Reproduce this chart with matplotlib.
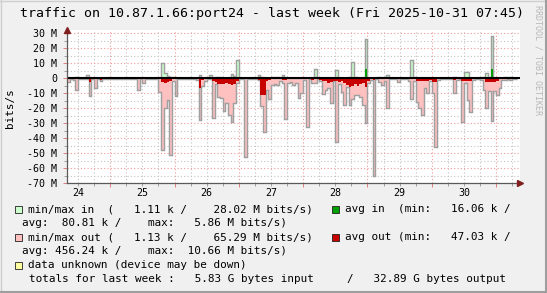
import numpy as np

import matplotlib
matplotlib.use("Agg")
import matplotlib.pyplot as plt
from matplotlib.patches import Rectangle
from matplotlib.lines import Line2D

# hourly samples, M bits/s, hour index since 2025-10-24 00:00 (first sample 08:00)
FIRST_HOUR = 8

out_max = [
    # Oct 24 (08..23)
    2.7, 0.4, 1.2, 8.0, 0.4, 0.4, 0.4, 0.6, 12.0, 0.5, 6.8, 0.4, 1.5, 0.4, 0.4, 0.4,
    # Oct 25
    0.4, 0.4, 0.4, 0.4, 0.4, 0.4, 0.4, 0.4, 0.4, 0.4, 7.8, 0.4,
    3.0, 0.4, 0.4, 0.4, 0.4, 0.4, 8.9, 48.0, 19.5, 14.5, 51.0, 1.5,
    # Oct 26
    11.6, 0.4, 0.4, 0.4, 0.4, 0.4, 0.4, 0.4, 1.0, 28.0, 5.0, 2.0,
    0.5, 0.8, 26.5, 3.5, 12.3, 13.3, 22.0, 16.5, 24.4, 29.3, 16.5, 3.0,
    # Oct 27
    0.5, 0.4, 52.4, 0.4, 0.4, 0.4, 0.4, 1.0, 18.5, 35.5, 8.0, 13.8,
    4.4, 3.5, 4.4, 2.0, 3.0, 27.3, 3.0, 2.5, 4.4, 3.0, 12.9, 9.6,
    # Oct 28
    1.0, 32.2, 0.5, 3.3, 3.3, 0.5, 1.5, 10.2, 7.8, 6.7, 16.5, 2.0,
    42.7, 3.5, 8.9, 17.8, 5.5, 17.8, 14.0, 11.1, 11.1, 12.2, 17.8, 30.0,
    # Oct 29
    3.0, 1.0, 65.3, 0.5, 2.2, 4.4, 2.0, 19.6, 0.4, 0.4, 0.4, 2.2,
    0.4, 0.4, 0.4, 1.5, 14.0, 2.0, 15.5, 20.0, 24.4, 6.2, 10.0, 1.5,
    # Oct 30
    9.6, 45.5, 1.0, 0.4, 0.4, 0.4, 0.4, 0.5, 9.6, 1.0, 0.5, 28.9,
    3.3, 14.2, 22.2, 1.0, 0.4, 0.4, 1.0, 7.8, 20.0, 8.4, 28.7, 8.4,
    # Oct 31 (00..07)
    11.0, 6.5, 1.0, 1.0, 0.5, 1.0, 0.4, 0.4,
]

out_avg = [
    0.5, 0.3, 0.8, 0.4, 0.3, 0.3, 0.3, 0.3, 2.2, 0.4, 0.4, 0.3, 1.0, 0.3, 0.3, 0.3,
    0.3, 0.3, 0.3, 0.3, 0.3, 0.3, 0.3, 0.3, 0.3, 0.3, 0.4, 0.3,
    0.4, 0.3, 0.3, 0.3, 0.3, 0.3, 0.8, 2.2, 3.0, 2.5, 1.5, 0.8,
    0.5, 0.3, 0.3, 0.3, 0.3, 0.3, 0.3, 0.3, 0.6, 6.7, 1.2, 0.6,
    0.3, 0.8, 2.0, 2.5, 3.5, 3.5, 4.0, 3.0, 3.5, 4.4, 3.5, 1.5,
    0.4, 0.3, 0.5, 0.3, 0.3, 0.3, 0.3, 1.0, 11.0, 11.0, 1.5, 1.0,
    0.8, 0.8, 0.8, 0.5, 1.0, 1.0, 0.7, 0.7, 0.7, 0.7, 0.7, 0.7,
    0.5, 0.8, 0.3, 1.0, 0.8, 0.4, 1.0, 1.5, 2.0, 3.0, 2.5, 1.5,
    2.0, 2.5, 2.0, 3.3, 4.4, 5.5, 5.0, 4.0, 5.0, 4.0, 3.0, 5.5,
    2.0, 0.8, 1.0, 0.3, 0.6, 0.8, 0.5, 0.8, 0.3, 0.3, 0.3, 0.5,
    0.3, 0.3, 0.3, 0.4, 0.5, 0.4, 1.8, 1.8, 1.8, 1.5, 1.5, 1.0,
    2.2, 2.2, 0.4, 0.3, 0.3, 0.3, 0.3, 0.3, 1.0, 0.4, 0.3, 1.8,
    1.8, 1.8, 1.8, 0.4, 0.3, 0.3, 0.4, 0.8, 2.7, 2.7, 2.7, 2.7,
    1.5, 0.8, 0.3, 0.3, 0.3, 0.3, 0.3, 0.3,
]

in_max = [
    0.2, 0.2, 0.2, 0.7, 0.2, 0.2, 0.2, 2.3, 0.2, 0.2, 0.2, 0.2, 0.2, 0.2, 0.2, 0.2,
    0.2, 0.2, 0.2, 0.2, 0.2, 0.2, 0.2, 0.2, 0.2, 0.2, 0.2, 0.2,
    0.2, 0.2, 0.2, 0.2, 0.2, 0.2, 0.2, 10.0, 3.4, 1.5, 0.8, 0.7,
    0.2, 0.2, 0.2, 0.2, 0.2, 0.2, 0.2, 0.2, 0.2, 2.2, 0.2, 0.2,
    0.2, 2.3, 0.2, 0.7, 0.7, 0.5, 0.5, 0.5, 0.5, 3.0, 1.8, 12.3,
    0.2, 0.2, 0.2, 0.2, 0.2, 0.2, 0.2, 2.2, 1.0, 0.2, 0.2, 0.2,
    1.1, 0.5, 0.7, 0.2, 2.2, 0.2, 0.2, 0.2, 0.2, 0.2, 0.2, 0.2,
    0.2, 0.2, 0.2, 0.2, 6.0, 0.2, 0.2, 0.2, 0.2, 0.2, 0.2, 0.2,
    5.7, 0.3, 0.5, 0.3, 0.3, 1.0, 11.0, 0.7, 0.3, 0.3, 0.5, 26.2,
    0.5, 0.2, 0.2, 0.2, 1.1, 0.2, 1.0, 2.2, 0.2, 0.2, 0.2, 0.2,
    0.2, 0.2, 0.2, 0.2, 12.3, 0.7, 0.2, 0.2, 0.2, 0.2, 0.2, 0.2,
    0.2, 0.2, 0.2, 0.2, 0.2, 0.2, 0.2, 0.2, 1.1, 0.2, 0.2, 0.2,
    4.5, 4.5, 0.2, 0.2, 0.2, 0.2, 0.2, 0.7, 3.3, 1.0, 28.4, 0.3,
    0.2, 0.2, 0.2, 0.7, 0.2, 0.7, 0.2, 0.2,
]

in_avg = [
    0.05, 0.05, 0.05, 0.05, 0.05, 0.05, 0.05, 0.05, 0.05, 0.05, 0.05, 0.05, 0.05, 0.05, 0.05, 0.05,
    0.05, 0.05, 0.05, 0.05, 0.05, 0.05, 0.05, 0.05, 0.05, 0.05, 0.05, 0.05,
    0.05, 0.05, 0.05, 0.05, 0.05, 0.05, 0.05, 0.7, 0.5, 0.1, 0.05, 0.05,
    0.05, 0.05, 0.05, 0.05, 0.05, 0.05, 0.05, 0.05, 0.05, 0.1, 0.05, 0.05,
    0.05, 0.1, 0.05, 0.05, 0.05, 0.05, 0.05, 0.05, 0.05, 0.1, 0.1, 0.5,
    0.05, 0.05, 0.05, 0.05, 0.05, 0.05, 0.05, 0.3, 0.1, 0.05, 0.05, 0.05,
    0.05, 0.05, 0.05, 0.05, 0.1, 0.05, 0.05, 0.05, 0.05, 0.05, 0.05, 0.05,
    0.05, 0.05, 0.05, 0.05, 0.2, 0.05, 0.05, 0.05, 0.05, 0.05, 0.05, 0.05,
    0.2, 0.05, 0.05, 0.05, 0.05, 0.1, 0.7, 0.05, 0.05, 0.05, 0.5, 6.2,
    0.05, 0.05, 0.05, 0.05, 0.05, 0.05, 0.05, 0.05, 0.05, 0.05, 0.05, 0.05,
    0.05, 0.05, 0.05, 0.05, 0.5, 0.05, 0.05, 0.05, 0.05, 0.05, 0.05, 0.05,
    0.05, 0.05, 0.05, 0.05, 0.05, 0.05, 0.05, 0.05, 0.05, 0.05, 0.05, 0.05,
    0.3, 0.1, 0.05, 0.05, 0.05, 0.05, 0.05, 0.05, 0.2, 0.05, 6.2, 0.05,
    0.05, 0.05, 0.05, 0.05, 0.05, 0.05, 0.05, 0.05,
]

day_labels = ["24", "25", "26", "27", "28", "29", "30"]
y_labels = ["30 M", "20 M", "10 M", "0", "-10 M", "-20 M", "-30 M",
            "-40 M", "-50 M", "-60 M", "-70 M"]

title = "traffic on 10.87.1.66:port24 - last week (Fri 2025-10-31 07:45)"
legend_lines = [
    "min/max in  (   1.11 k /    28.02 M bits/s)",
    "avg in  (min:   16.06 k /",
    "avg:  80.81 k /    max:   5.86 M bits/s)",
    "min/max out (   1.13 k /    65.29 M bits/s)",
    "avg out (min:   47.03 k /",
    "avg: 456.24 k /    max:  10.66 M bits/s)",
    "data unknown (device may be down)",
    "totals for last week :   5.83 G bytes input     /   32.89 G bytes output",
]

W, H = 547, 293
MONO = "DejaVu Sans Mono"
C_BACK = "#f0f0f0"
C_INMM = "#ccffcc"
C_INAVG = "#00a000"
C_OUTMM = "#ffc0c0"
C_OUTAVG = "#c80000"
C_UNK = "#ffffa0"
C_LINE = "#a0a0a0"
C_ARROW = "#7f1f1f"


def fx(px):
    return px / W


def fy(py):
    return 1 - py / H


plt.rcParams["font.family"] = MONO

fig = plt.figure(figsize=(W / 100, H / 100), dpi=100, facecolor=C_BACK)

# frame
fig.add_artist(Line2D([0, 1], [fy(0.5), fy(0.5)], color="#cfcfcf", lw=1.0))
fig.add_artist(Line2D([fx(0.5), fx(0.5)], [0, 1], color="#cfcfcf", lw=1.0))
fig.add_artist(Line2D([0, 1], [fy(292), fy(292)], color="#9e9e9e", lw=1.5))
fig.add_artist(Line2D([fx(546), fx(546)], [0, 1], color="#9e9e9e", lw=1.5))

x0, x1, yb, yt = 66.7, 519.9, 183.3, 29.5
ax = fig.add_axes([fx(x0), fy(yb), fx(x1) - fx(x0), (yb - yt) / H])
ax.set_facecolor("white")

edges = np.arange(FIRST_HOUR, FIRST_HOUR + len(out_max) + 1)
om = -np.array(out_max)
oa = -np.array(out_avg)
im = np.array(in_max)
ia = np.array(in_avg)

ax.stairs(om, edges, baseline=0, fill=True, color=C_OUTMM, lw=0, zorder=2)
ax.stairs(im, edges, baseline=0, fill=True, color=C_INMM, lw=0, zorder=2)
ax.stairs(om, edges, baseline=None, color=C_LINE, lw=1.05, zorder=3)
ax.stairs(im, edges, baseline=None, color=C_LINE, lw=1.05, zorder=3)
ax.stairs(oa, edges, baseline=0, fill=True, color=C_OUTAVG, lw=0, zorder=4)
ax.stairs(ia, edges, baseline=0, fill=True, color=C_INAVG, lw=0, zorder=4)
ax.axhline(0, color="black", lw=1.5, zorder=5)

ax.set_xlim(7.75, 176.9)
ax.set_ylim(-70, 32.5)

# grid
ax.set_xticks(np.arange(24, 169, 24))
ax.set_xticks(np.arange(12, 176, 6), minor=True)
ax.set_xticklabels([])
ax.set_yticks(np.arange(30, -71, -10))
ax.set_yticklabels(y_labels)
ax.set_yticks(np.arange(25, -70, -10), minor=True)
ax.grid(which="major", color="#f09a9a", ls=(0, (1, 2)), lw=0.8, zorder=1)
ax.grid(which="minor", color="#c4c4c4", ls=(0, (1, 2)), lw=0.8, zorder=1)
ax.set_axisbelow(True)
ax.tick_params(which="major", length=3, width=0.7, color="#e08080", labelsize=7.2, pad=4)
ax.tick_params(which="minor", length=2, width=0.7, color="#a0a0a0")
ax.tick_params(axis="y", labelcolor="black")

for s in ["top", "right"]:
    ax.spines[s].set_visible(False)
for s in ["left", "bottom"]:
    ax.spines[s].set_color("#5a5a5a")
    ax.spines[s].set_linewidth(0.9)
    ax.spines[s].set_zorder(6)

# arrows
ax.plot(1.0, 0, marker=">", ms=4, color=C_ARROW, transform=ax.transAxes, clip_on=False, zorder=7)
ax.plot(0, 1.0, marker="^", ms=4, color=C_ARROW, transform=ax.transAxes, clip_on=False, zorder=7)

# day labels at noon
for lab, h in zip(day_labels, np.arange(12, 168, 24)):
    ax.text(h, -0.06, lab, transform=ax.get_xaxis_transform(), ha="center", va="center",
            fontsize=7.2)

fig.text(fx(272.5), fy(13), title, ha="center", va="center", fontsize=9.5)
fig.text(fx(10), fy(108), "bits/s", rotation=90, ha="center", va="center", fontsize=7.9)
fig.text(fx(538), fy(5), "RRDTOOL / TOBI OETIKER", rotation=270, ha="center", va="top",
         fontsize=6, color="#b8b8b8")


def square(xl, yc, color):
    s = 7.5
    fig.add_artist(Rectangle((fx(xl), fy(yc + s / 2)), s / W, s / H, facecolor=color,
                             edgecolor="#202020", lw=0.6, transform=fig.transFigure))


rows_y = [209.3, 223.3, 237.3, 251.0, 265.3, 279.0]
lf = 7.9
square(14.7, rows_y[0], C_INMM)
fig.text(fx(28.3), fy(rows_y[0]), legend_lines[0], va="center", fontsize=lf)
square(331.5, rows_y[0], C_INAVG)
fig.text(fx(345), fy(rows_y[0]), legend_lines[1], va="center", fontsize=lf)
fig.text(fx(22.3), fy(rows_y[1]), legend_lines[2], va="center", fontsize=lf)
square(14.7, rows_y[2], C_OUTMM)
fig.text(fx(28.3), fy(rows_y[2]), legend_lines[3], va="center", fontsize=lf)
square(331.5, rows_y[2], C_OUTAVG)
fig.text(fx(345), fy(rows_y[2]), legend_lines[4], va="center", fontsize=lf)
fig.text(fx(22.3), fy(rows_y[3]), legend_lines[5], va="center", fontsize=lf)
square(14.7, rows_y[4], C_UNK)
fig.text(fx(28.3), fy(rows_y[4]), legend_lines[6], va="center", fontsize=lf)
fig.text(fx(29.3), fy(rows_y[5]), legend_lines[7], va="center", fontsize=lf)

fig.savefig("out.png", dpi=100, facecolor=C_BACK)
plt.close(fig)
